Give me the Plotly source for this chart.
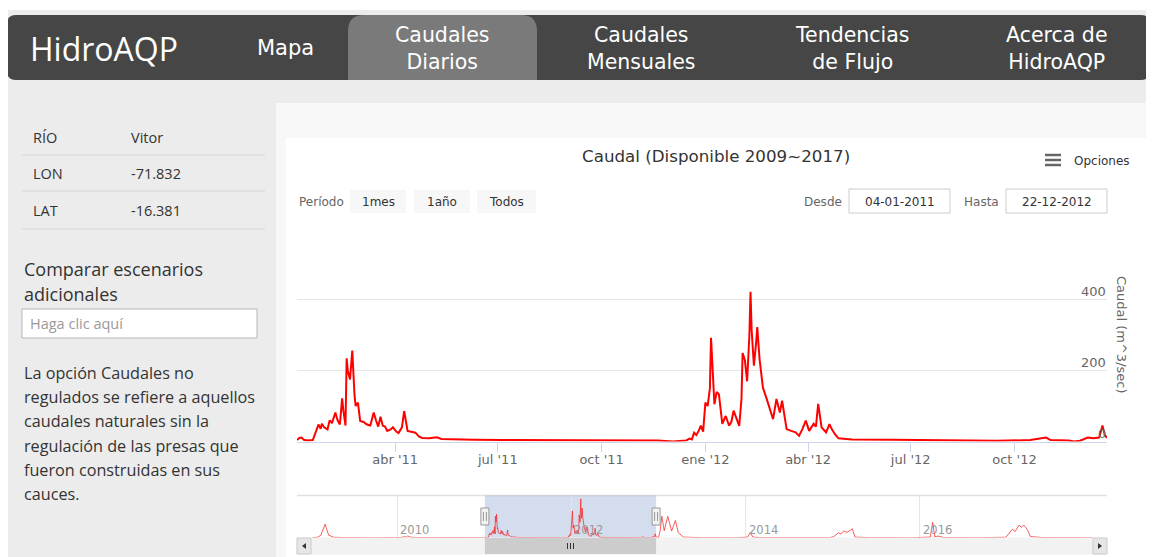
import plotly.graph_objects as go
import pandas as pd

W, H = 1154, 557
# the page body has an 8px margin: reference pixel (X, Y) sits at figure pixel (X-8, Y-8)
OX, OY = 8, 8

# ---------------- data ----------------
range_start = "2011-01-04"
range_end = "2012-12-22"

main_dates = [
    "2011-01-04", "2011-01-06", "2011-01-08", "2011-01-10", "2011-01-13",
    "2011-01-18", "2011-01-21", "2011-01-23", "2011-01-25", "2011-01-26",
    "2011-01-28", "2011-01-31", "2011-02-02", "2011-02-04", "2011-02-07",
    "2011-02-09", "2011-02-11", "2011-02-13", "2011-02-14", "2011-02-16",
    "2011-02-17", "2011-02-18", "2011-02-20", "2011-02-22", "2011-02-24",
    "2011-02-25", "2011-02-27", "2011-03-01", "2011-03-04", "2011-03-07",
    "2011-03-10", "2011-03-13", "2011-03-15", "2011-03-17", "2011-03-19",
    "2011-03-21", "2011-03-23", "2011-03-25", "2011-03-28", "2011-03-30",
    "2011-04-02", "2011-04-04", "2011-04-07", "2011-04-09", "2011-04-12",
    "2011-04-16", "2011-04-19", "2011-04-22", "2011-04-25", "2011-05-01",
    "2011-05-08", "2011-05-12", "2011-05-20", "2011-06-10", "2011-07-05",
    "2011-08-01", "2011-09-01", "2011-10-01", "2011-11-01", "2011-11-20",
    "2011-12-03", "2011-12-10", "2011-12-15", "2011-12-18", "2011-12-20",
    "2011-12-22", "2011-12-24", "2011-12-26", "2011-12-28", "2011-12-30",
    "2012-01-01", "2012-01-03", "2012-01-05", "2012-01-06", "2012-01-08",
    "2012-01-09", "2012-01-11", "2012-01-13", "2012-01-16", "2012-01-19",
    "2012-01-22", "2012-01-24", "2012-01-26", "2012-01-28", "2012-01-31",
    "2012-02-02", "2012-02-03", "2012-02-05", "2012-02-07", "2012-02-09",
    "2012-02-10", "2012-02-11", "2012-02-13", "2012-02-15", "2012-02-16",
    "2012-02-18", "2012-02-21", "2012-02-24", "2012-02-27", "2012-03-01",
    "2012-03-04", "2012-03-07", "2012-03-09", "2012-03-11", "2012-03-13",
    "2012-03-17", "2012-03-21", "2012-03-24", "2012-03-27", "2012-03-30",
    "2012-04-02", "2012-04-06", "2012-04-08", "2012-04-10", "2012-04-13",
    "2012-04-17", "2012-04-20", "2012-04-22", "2012-04-25", "2012-04-28",
    "2012-05-10", "2012-06-15", "2012-07-15", "2012-08-15", "2012-09-15",
    "2012-10-15", "2012-10-29", "2012-11-02", "2012-11-18", "2012-11-23",
    "2012-11-28", "2012-12-05", "2012-12-10", "2012-12-15", "2012-12-18",
    "2012-12-20", "2012-12-22",
]
main_values = [
    4, 10, 11, 5, 3,
    4, 30, 48, 36, 50,
    40, 34, 60, 52, 82,
    60, 48, 122, 90, 45,
    235, 200, 175, 257, 130,
    100, 110, 58, 55, 48,
    45, 82, 60, 42, 70,
    45, 42, 30, 34, 40,
    28, 24, 40, 86, 30,
    27, 25, 14, 10, 9,
    12, 7, 6, 5, 4,
    4, 3, 2, 3, 3,
    0, 2, 3, 8, 6,
    25, 18, 30, 45, 28,
    110, 100, 150, 293, 150,
    105, 140, 133, 50, 72,
    45, 55, 87, 70, 44,
    120, 250, 230, 170, 300,
    423, 314, 214, 280, 323,
    233, 152, 124, 95, 63,
    120, 82, 115, 70, 35,
    30, 26, 16, 35, 59,
    30, 50, 42, 106, 40,
    26, 49, 35, 20, 9,
    6, 5, 4, 3, 2,
    4, 11, 4, 3, 0,
    2, 11, 9, 11, 45,
    18, 10,
]

nav_pre_dates = [
    "2009-01-10", "2009-02-01", "2009-02-15", "2009-02-25", "2009-03-05",
    "2009-03-12", "2009-03-20", "2009-04-10", "2009-06-01", "2009-10-01",
    "2010-01-15", "2010-02-01", "2010-02-08", "2010-02-15", "2010-02-25",
    "2010-03-20", "2010-07-01", "2010-12-01",
]
nav_pre_values = [
    3, 8, 30, 90, 150,
    90, 30, 8, 4, 3,
    4, 15, 8, 22, 10,
    5, 3, 3,
]
nav_post_dates = [
    "2013-01-01", "2013-01-08", "2013-01-15", "2013-01-25", "2013-02-09",
    "2013-02-25", "2013-03-13", "2013-03-25", "2013-04-15", "2013-07-01",
    "2013-12-01", "2014-01-10", "2014-01-21", "2014-02-01", "2014-03-01",
    "2014-08-01", "2014-12-20", "2015-01-06", "2015-01-25", "2015-02-05",
    "2015-02-17", "2015-03-03", "2015-03-25", "2015-04-05", "2015-06-01",
    "2015-12-01", "2016-02-15", "2016-02-25", "2016-03-05", "2016-03-20",
    "2016-04-10", "2016-09-01", "2016-12-28", "2017-01-24", "2017-02-05",
    "2017-02-21", "2017-03-03", "2017-03-13", "2017-03-27", "2017-04-10",
    "2017-06-01", "2017-12-25",
]
nav_post_values = [
    6, 80, 235, 80, 235,
    75, 190, 60, 10, 4,
    3, 10, 60, 10, 4,
    3, 4, 15, 55, 45,
    75, 60, 100, 10, 4,
    3, 10, 170, 15, 20,
    5, 3, 8, 95, 70,
    140, 115, 140, 95, 15,
    5, 3,
]

x_tick_dates = ["2011-04-01", "2011-07-01", "2011-10-01", "2012-01-01",
                "2012-04-01", "2012-07-01", "2012-10-01"]
x_tick_labels = ["abr '11", "jul '11", "oct '11", "ene '12",
                 "abr '12", "jul '12", "oct '12"]
y_tick_vals = [0, 200, 400, 600]
y_tick_labels = ["0", "200", "400", ""]

nav_range = ["2008-11-07", "2018-02-25"]
nav_tick_dates = ["2010-01-01", "2012-01-01", "2014-01-01", "2016-01-01"]
nav_tick_labels = ["2010", "2012", "2014", "2016"]

nav_tabs = ["Mapa", "Caudales<br>Diarios", "Caudales<br>Mensuales",
            "Tendencias<br>de Flujo", "Acerca de<br>HidroAQP"]
info_keys = ["RÍO", "LON", "LAT"]
info_vals = ["Vitor", "-71.832", "-16.381"]
note_lines = ["La opción Caudales no", "regulados se refiere a aquellos",
              "caudales naturales sin la", "regulación de las presas que",
              "fueron construidas en sus", "cauces."]
range_buttons = ["1mes", "1año", "Todos"]

# ---------------- helpers ----------------
def px(x):
    return (x - OX) / W


def py(y):
    return 1 - (y - OY) / H


def rr_path(x0, y0, x1, y1, rtl, rtr, rbr, rbl):
    def P(x, y):
        return f"{px(x):.5f},{py(y):.5f}"
    s = f"M {P(x0 + rtl, y0)} L {P(x1 - rtr, y0)} Q {P(x1, y0)} {P(x1, y0 + rtr)} "
    s += f"L {P(x1, y1 - rbr)} Q {P(x1, y1)} {P(x1 - rbr, y1)} "
    s += f"L {P(x0 + rbl, y1)} Q {P(x0, y1)} {P(x0, y1 - rbl)} "
    s += f"L {P(x0, y0 + rtl)} Q {P(x0, y0)} {P(x0 + rtl, y0)} Z"
    return s


shapes = []
annots = []


def rect(x0, y0, x1, y1, fill, line=None, lw=1, layer="below"):
    shapes.append(dict(type="rect", xref="paper", yref="paper",
                       x0=px(x0), x1=px(x1), y0=py(y1), y1=py(y0),
                       fillcolor=fill, line=dict(color=line or fill, width=lw if line else 0),
                       layer=layer))


def hline(x0, x1, y, color, lw=1, layer="below"):
    shapes.append(dict(type="line", xref="paper", yref="paper",
                       x0=px(x0), x1=px(x1), y0=py(y), y1=py(y),
                       line=dict(color=color, width=lw), layer=layer))


def text(x, y, t, size, color, family="Open Sans", xanchor="left", angle=0):
    annots.append(dict(x=px(x), y=py(y), xref="paper", yref="paper", text=t,
                       showarrow=False, xanchor=xanchor, yanchor="middle",
                       textangle=angle,
                       font=dict(family=family, size=size, color=color)))


PAGE_FONT = "Open Sans"
TAB_FONT = "DejaVu Sans"
HC_FONT = "DejaVu Sans"

# ---------------- page chrome ----------------
rect(0, 0, W + OX, 10, "#ffffff")
shapes.append(dict(type="path", xref="paper", yref="paper",
                   path=rr_path(7, 15, 1150, 80, 9, 9, 9, 9),
                   fillcolor="#464646", line=dict(width=0), layer="below"))
shapes.append(dict(type="path", xref="paper", yref="paper",
                   path=rr_path(348, 15, 537, 80, 16, 16, 0, 0),
                   fillcolor="#7a7a7a", line=dict(width=0), layer="below"))
rect(276, 103, W + OX, H + OY, "#f8f8f8")
rect(286, 138, 1146, H + OY, "#ffffff")

text(28, 48, "HidroAQP", 32, "#ffffff", PAGE_FONT)
tab_x = [285, 442, 641, 852, 1057]
for tx, t in zip(tab_x, nav_tabs):
    size = 21 if "<br>" not in t else 20.5
    text(tx, 48, t, size, "#ffffff", TAB_FONT, xanchor="center")

# left panel
row_y = [137, 173, 211]
for ry, k, v in zip(row_y, info_keys, info_vals):
    text(31, ry, k, 14.5, "#333333", PAGE_FONT)
    text(129, ry, v, 14.5, "#333333", PAGE_FONT)
for ly in [155, 191, 229]:
    hline(22, 265, ly, "#d6d6d6")
text(22, 269, "Comparar escenarios", 18, "#333333", PAGE_FONT)
text(22, 294, "adicionales", 18, "#333333", PAGE_FONT)
rect(22, 309, 257, 338, "#ffffff", "#b5b5b5", 1)
text(28, 323.5, "Haga clic aquí", 14.5, "#9a9a9a", PAGE_FONT)
for i, ln in enumerate(note_lines):
    text(22, 373 + i * 24.2, ln, 16.2, "#333333", PAGE_FONT)

# chart header
text(716, 156, "Caudal (Disponible 2009~2017)", 16.7, "#333333", HC_FONT, xanchor="center")
for yy in [155, 160, 165]:
    hline(1045, 1061, yy, "#666666", 2.5)
text(1072, 161, "Opciones", 12, "#333333", HC_FONT)
text(297, 202, "Período", 12, "#666666", HC_FONT)
btn_x = [(350, 406), (414, 470), (477, 536)]
for (bx0, bx1), b in zip(btn_x, range_buttons):
    rect(bx0, 190, bx1, 213, "#f7f7f7")
    text((bx0 + bx1) / 2, 201.5, b, 12, "#333333", HC_FONT, xanchor="center")
text(802, 201.5, "Desde", 12, "#666666", HC_FONT)
text(962, 201.5, "Hasta", 12, "#666666", HC_FONT)
rect(849, 189, 950, 213, "#ffffff", "#cccccc", 1)
rect(1006, 189, 1107, 213, "#ffffff", "#cccccc", 1)
text(899.5, 201.5, pd.Timestamp(range_start).strftime("%d-%m-%Y"), 12, "#333333", HC_FONT, xanchor="center")
text(1056.5, 201.5, pd.Timestamp(range_end).strftime("%d-%m-%Y"), 12, "#333333", HC_FONT, xanchor="center")

# y axis title
text(1122, 335, "Caudal (m^3/sec)", 13, "#666666", HC_FONT, xanchor="center", angle=90)

# y tick labels (placed above their grid lines, inside the plot on the right)
for v, lab in zip(y_tick_vals, y_tick_labels):
    if lab:
        annots.append(dict(x=1, xref="x domain", y=v, yref="y", text=lab,
                           showarrow=False, xanchor="right", yanchor="bottom",
                           xshift=1, yshift=-1,
                           font=dict(family=HC_FONT, size=13, color="#666666")))

# ---------------- navigator decorations ----------------
hline(297, 1107, 495.5, "#e0e0e0", 1.5)
shapes.append(dict(type="rect", xref="x2", yref="y2 domain",
                   x0=range_start, x1=range_end, y0=0, y1=1,
                   fillcolor="rgba(102,133,194,0.28)", line=dict(width=0), layer="below"))
for d, lab in zip(nav_tick_dates, nav_tick_labels):
    annots.append(dict(x=d, xref="x2", y=py(530), yref="paper", text=lab,
                       showarrow=False, xanchor="left", yanchor="middle", xshift=1,
                       font=dict(family=HC_FONT, size=11.5, color="#999999")))

# scrollbar
rect(297, 538, 1107, 554, "#f2f2f2", "#f2f2f2", 1, layer="above")
shapes.append(dict(type="rect", xref="x2", yref="paper",
                   x0=range_start, x1=range_end, y0=py(554), y1=py(538),
                   fillcolor="#cccccc", line=dict(width=0), layer="above"))
center = pd.Timestamp(range_start) + (pd.Timestamp(range_end) - pd.Timestamp(range_start)) / 2
for off in [-3, 0, 3]:
    shapes.append(dict(type="line", xref="x2", yref="paper", xsizemode="pixel",
                       xanchor=center.strftime("%Y-%m-%d"), x0=off, x1=off,
                       y0=py(549), y1=py(543), line=dict(color="#333333", width=1),
                       layer="above"))
rect(297, 538, 311, 554, "#e6e6e6", "#cccccc", 1, layer="above")
rect(1093, 538, 1107, 554, "#e6e6e6", "#cccccc", 1, layer="above")
shapes.append(dict(type="path", xref="paper", yref="paper",
                   path=f"M {px(302)},{py(546)} L {px(306)},{py(543)} L {px(306)},{py(549)} Z",
                   fillcolor="#333333", line=dict(width=0), layer="above"))
shapes.append(dict(type="path", xref="paper", yref="paper",
                   path=f"M {px(1102)},{py(546)} L {px(1098)},{py(543)} L {px(1098)},{py(549)} Z",
                   fillcolor="#333333", line=dict(width=0), layer="above"))

# handles
for d in [range_start, range_end]:
    shapes.append(dict(type="rect", xref="x2", yref="paper", xsizemode="pixel",
                       xanchor=d, x0=-4, x1=4, y0=py(525), y1=py(508),
                       fillcolor="#f2f2f2", line=dict(color="#999999", width=1),
                       layer="above"))
    for off in [-1.5, 1.5]:
        shapes.append(dict(type="line", xref="x2", yref="paper", xsizemode="pixel",
                           xanchor=d, x0=off, x1=off, y0=py(521), y1=py(512),
                           line=dict(color="#999999", width=1), layer="above"))

# ---------------- traces ----------------
nav_x = nav_pre_dates + main_dates + nav_post_dates
nav_y = nav_pre_values + main_values + nav_post_values

fig = go.Figure()
fig.add_trace(go.Scatter(x=main_dates, y=main_values, mode="lines",
                         line=dict(color="#ff0000", width=2),
                         xaxis="x", yaxis="y", hoverinfo="skip"))
fig.add_trace(go.Scatter(x=nav_x, y=nav_y, mode="lines",
                         line=dict(color="rgba(245,40,40,0.75)", width=1),
                         xaxis="x2", yaxis="y2", hoverinfo="skip"))

axis_font = dict(family=HC_FONT, size=13, color="#666666")
fig.update_layout(
    width=W, height=H, autosize=False,
    margin=dict(l=0, r=0, t=0, b=0),
    paper_bgcolor="#ececec", plot_bgcolor="rgba(0,0,0,0)",
    showlegend=False,
    xaxis=dict(domain=[px(297), px(1107)], anchor="y", type="date",
               range=[range_start, range_end],
               tickvals=x_tick_dates, ticktext=x_tick_labels,
               showgrid=False, zeroline=False,
               showline=True, linecolor="#ccd6eb", linewidth=1,
               ticks="outside", ticklen=9, tickcolor="#ccd6eb", tickwidth=1,
               ticklabelstandoff=-3,
               tickfont=axis_font, fixedrange=True),
    yaxis=dict(domain=[py(441.5), py(229)], anchor="x", side="right",
               range=[0, 600], tickvals=y_tick_vals, showticklabels=False,
               gridcolor="#e6e6e6", gridwidth=1, zeroline=False, showline=False,
               ticks="", fixedrange=True),
    xaxis2=dict(domain=[px(297), px(1107)], anchor="y2", type="date",
                range=nav_range, tickvals=nav_tick_dates, showticklabels=False,
                showgrid=True, gridcolor="#e6e6e6", zeroline=False,
                showline=False, ticks="", fixedrange=True),
    yaxis2=dict(domain=[py(538), py(495.5)], anchor="x2", range=[0, 460],
                showgrid=False, showticklabels=False, zeroline=False,
                showline=False, ticks="", fixedrange=True),
    shapes=shapes,
    annotations=annots,
)

fig.write_html("out.html")
